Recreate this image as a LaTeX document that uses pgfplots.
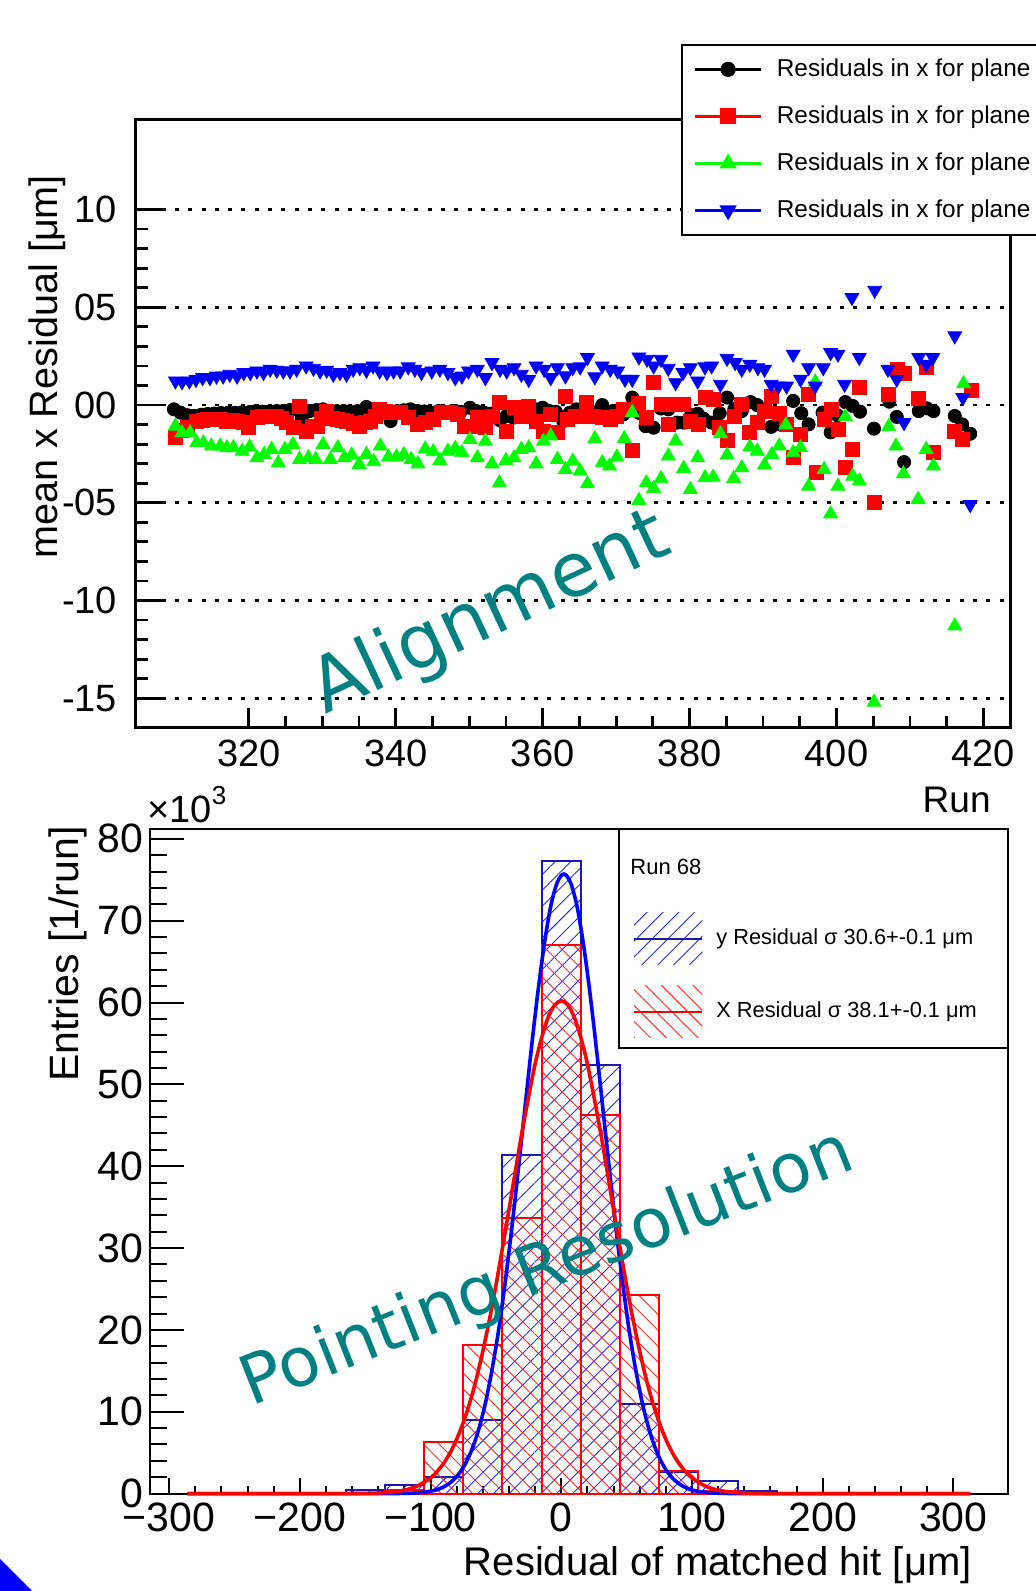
\documentclass[border=0pt]{standalone}
\usepackage{fontspec}
\setmainfont{Liberation Sans}
\newfontfamily\annotfont{DejaVu Sans}
\usepackage{pgfplots}
\usepackage{pgfplotstable}
\pgfplotsset{compat=1.18}
\usetikzlibrary{patterns.meta}

\definecolor{rootblack}{RGB}{0,0,0}
\definecolor{rootred}{RGB}{255,0,0}
\definecolor{rootgreen}{RGB}{0,255,0}
\definecolor{rootblue}{RGB}{0,0,255}
\definecolor{histblue}{RGB}{25,25,170}
\definecolor{rootteal}{RGB}{0,128,128}

% mean x residual per run, one table per plane
\pgfplotstableread{
run res
309.8 -0.22
310.7 -0.39
311.6 -0.52
312.5 -0.56
313.5 -0.50
314.4 -0.46
315.3 -0.44
316.2 -0.41
317.2 -0.39
318.1 -0.40
319.1 -0.37
320.1 -0.36
321.0 -0.31
321.9 -0.34
322.8 -0.33
323.8 -0.31
324.7 -0.31
325.6 -0.26
326.5 -0.22
327.2 -0.68
328.3 -0.31
329.2 -0.26
330.1 -0.22
331.1 -0.39
332.0 -0.33
332.9 -0.31
333.8 -0.35
334.8 -0.31
336.0 -0.10
336.9 -0.39
337.9 -0.36
339.3 -0.82
340.2 -0.31
341.1 -0.27
342.0 -0.22
343.0 -0.31
343.9 -0.33
344.9 -0.39
345.8 -0.31
346.7 -0.39
347.7 -0.31
348.8 -0.35
350.1 -0.14
351.0 -0.31
352.0 -0.39
353.0 -0.44
354.2 -0.79
355.1 -0.56
356.0 -0.65
357.0 -0.48
358.1 -0.31
359.0 -0.22
360.0 -0.14
360.9 -0.31
361.8 -0.35
362.8 -0.82
363.7 -0.39
364.6 -0.22
365.6 -0.30
366.7 -0.36
368.1 0.00
369.5 -0.31
371.0 -0.48
372.2 0.38
373.1 -0.40
374.0 -1.08
375.1 -1.16
376.1 -0.18
377.1 -0.22
378.3 -0.90
379.2 -0.90
380.2 -0.52
381.1 -0.45
381.9 -0.70
383.0 -0.90
384.1 -0.42
385.1 0.38
386.1 -0.20
387.1 -0.31
388.3 0.15
389.2 0.00
390.1 -0.30
391.1 -1.12
392.3 -0.99
394.1 0.21
395.2 -0.42
396.2 -0.99
398.1 -0.39
399.2 -1.40
400.1 -0.52
401.2 0.15
402.2 -0.05
403.2 -0.34
405.1 -1.21
407.2 0.17
408.2 -0.61
409.2 -2.92
411.2 -0.31
412.3 -0.17
413.2 -0.31
416.1 -0.56
417.1 -0.99
418.2 -1.47
}\planeA

\pgfplotstableread{
run res
310.0 -1.64
310.8 -1.30
311.6 -1.16
312.9 -0.82
313.7 -0.80
314.3 -0.74
315.2 -0.76
316.1 -0.74
317.0 -0.82
317.7 -0.78
318.4 -0.82
319.2 -0.90
320.0 -1.16
321.1 -0.65
321.8 -0.60
322.4 -0.56
323.8 -0.56
324.4 -0.70
325.1 -0.91
326.0 -1.16
326.9 -0.05
327.8 -1.33
328.6 -1.10
329.3 -1.08
329.9 -0.70
330.6 -0.31
331.4 -0.70
332.0 -0.74
332.7 -0.80
333.3 -0.82
334.2 -0.95
335.1 -1.08
335.8 -0.90
336.5 -0.82
337.2 -0.60
337.8 -0.22
338.6 -0.35
339.3 -0.39
340.0 -0.40
340.6 -0.39
341.7 -0.65
342.9 -0.99
344.0 -0.91
345.1 -0.74
346.2 -0.39
347.4 -0.39
348.4 -0.48
349.3 -1.08
350.1 -1.08
351.1 -0.65
352.2 -1.16
353.1 -0.56
354.1 0.12
355.1 -1.33
356.1 -0.14
357.1 -0.56
358.1 -0.05
359.1 -0.82
360.1 -1.33
361.1 -0.48
362.0 -1.42
363.1 0.46
363.3 -0.73
364.4 -0.56
365.1 -0.56
366.0 0.12
366.9 -0.56
368.1 -0.65
369.2 -0.73
370.1 -0.56
371.0 -0.22
372.2 -2.30
373.0 0.07
374.1 -0.61
375.1 1.14
376.1 0.03
377.1 -0.99
378.1 0.03
379.2 0.03
380.1 -0.82
381.2 -0.99
382.1 0.38
383.2 0.29
384.1 -1.16
385.1 -1.81
386.1 -0.56
387.1 0.03
388.2 -1.38
389.2 -0.87
390.2 -0.31
391.2 0.46
392.2 -0.44
393.2 -0.99
394.1 -2.70
395.1 -1.50
396.2 0.55
397.3 -3.47
398.3 -0.73
399.3 -0.22
400.2 -1.25
401.2 -3.18
402.2 -2.27
403.1 0.92
405.1 -5.00
407.1 0.55
408.3 1.83
409.3 1.61
411.2 0.34
412.2 1.91
413.2 -2.44
416.1 -1.33
417.2 -1.76
418.3 0.75
}\planeB

\pgfplotstableread{
run res
310.0 -1.08
310.9 -1.42
312.0 -1.42
312.9 -1.93
313.8 -1.93
314.9 -2.10
316.1 -2.10
317.0 -2.19
317.9 -2.19
319.1 -2.36
320.1 -2.15
321.1 -2.70
322.1 -2.53
323.1 -2.27
324.0 -2.96
324.9 -2.27
326.0 -2.02
326.9 -2.78
328.1 -2.70
329.1 -2.78
330.1 -2.02
331.1 -2.78
332.1 -2.19
333.0 -2.70
334.0 -2.56
335.0 -3.04
336.0 -2.53
337.0 -2.90
337.9 -2.10
339.0 -2.66
340.1 -2.66
341.1 -2.53
342.1 -2.78
343.0 -3.01
344.0 -2.25
345.1 -2.39
346.0 -2.84
347.1 -2.36
348.1 -2.22
349.0 -2.44
350.1 -1.76
351.1 -2.70
352.2 -1.85
353.1 -3.01
354.1 -3.98
355.0 -2.84
356.1 -2.70
357.1 -2.27
358.1 -2.19
359.1 -3.01
360.1 -1.85
361.1 -1.59
362.0 -2.78
363.1 -3.30
364.1 -2.87
365.1 -3.38
366.1 -4.03
367.1 -1.72
368.1 -2.95
369.1 -3.12
370.1 -2.66
371.1 -1.72
372.2 -0.39
373.1 -4.88
374.1 -3.98
375.1 -4.27
376.1 -3.77
377.1 -2.61
378.1 -1.84
379.2 -3.24
380.1 -4.32
381.1 -2.70
382.1 -3.72
383.2 -3.69
384.2 -1.47
385.1 -2.56
386.0 -3.76
387.1 -3.21
388.2 -2.15
389.2 -2.36
390.2 -3.07
391.2 -2.53
392.2 -2.10
393.1 -1.02
394.1 -2.44
395.1 -2.19
396.2 -4.15
397.1 1.18
398.3 -3.30
399.2 -5.57
400.2 -4.15
401.2 -0.60
402.2 -3.64
403.1 -3.89
405.1 -15.20
407.1 -1.11
408.1 -2.10
409.1 -3.52
411.1 -4.83
412.2 -2.27
413.2 -3.12
416.1 -11.30
417.3 1.09
}\planeC

\pgfplotstableread{
run res
310.0 1.23
310.9 1.19
311.9 1.23
312.8 1.31
313.7 1.40
314.7 1.40
315.6 1.48
316.5 1.48
317.4 1.57
318.4 1.48
319.3 1.66
320.2 1.66
321.1 1.74
322.0 1.66
322.9 1.83
323.8 1.78
324.7 1.74
325.6 1.74
326.5 1.83
327.8 2.00
328.8 1.88
329.7 1.74
330.6 1.78
331.5 1.57
332.4 1.66
333.3 1.57
334.2 1.83
335.1 1.91
336.0 1.78
336.9 2.00
337.8 1.74
338.8 1.66
339.7 1.74
340.6 1.74
341.7 1.95
342.6 1.83
343.5 1.66
344.9 1.74
346.0 1.83
347.1 1.66
348.1 1.40
349.0 1.48
349.9 1.74
351.1 1.83
352.2 1.40
353.1 2.17
354.2 1.83
355.1 1.74
356.1 1.91
357.1 1.57
358.1 1.31
359.1 2.00
360.2 1.83
361.1 1.40
362.0 1.91
363.1 1.49
364.1 1.91
365.1 1.95
366.1 2.43
367.1 1.44
368.1 2.00
369.2 1.83
370.2 1.74
371.2 1.32
372.2 1.32
373.1 2.46
374.2 2.34
375.1 2.00
376.1 2.34
377.1 1.88
378.1 1.14
379.1 1.66
380.1 1.91
381.1 1.23
382.1 1.95
383.0 2.00
384.2 1.06
385.1 2.39
386.2 2.17
387.1 1.83
388.2 2.08
389.3 1.91
390.2 1.83
391.1 1.06
392.1 0.97
393.2 0.97
394.1 2.60
395.1 1.32
396.2 1.91
397.1 0.97
398.2 1.91
399.2 2.68
400.2 2.60
401.1 1.06
402.1 5.50
403.1 2.43
405.2 5.87
407.0 1.83
408.2 1.32
409.2 -0.90
411.2 2.43
412.2 2.08
413.1 2.43
416.1 3.54
417.2 0.38
418.2 -5.09
}\planeD

\begin{document}
\begin{tikzpicture}[x=1pt,y=1pt]
\useasboundingbox (0,0) rectangle (518,795.5);

% ---------------- top panel: alignment ----------------
\begin{axis}[
  at={(67.5pt,431.7pt)}, anchor=south west,
  scale only axis, width=437.8pt, height=304pt,
  xmin=304.5, xmax=423.7, ymin=-16.5, ymax=14.6,
  xtick={320,340,...,420}, minor x tick num=3,
  ytick={-15,-10,-5,0,5,10}, yticklabels={-15,-10,-05,00,05,10},
  minor y tick num=4,
  tick align=inside, xtick pos=bottom, ytick pos=left,
  xtick style={/pgfplots/major tick length=10pt,/pgfplots/minor tick length=5.8pt},
  ytick style={/pgfplots/major tick length=14pt,/pgfplots/minor tick length=6.7pt},
  every tick/.style={black, line width=1.4pt},
  axis line style={line width=1.5pt},
  ymajorgrids,
  grid style={black, line width=1.3pt, dash pattern=on 2pt off 4.65pt},
  ticklabel style={font=\fontsize{19}{22}\selectfont},
  yticklabel style={xshift=-5.5pt},
  xticklabel style={yshift=-2.5pt},
  /pgf/number format/assume math mode=true,
  scaled ticks=false,
  legend style={at={(0.6236,1.1245)}, anchor=north west, draw=black,
    line width=1pt, fill=white, font=\fontsize{12.2}{15}\selectfont,
    inner xsep=5.8pt, inner ysep=4.25pt, row sep=7.5pt, column sep=5.1pt,
    nodes={inner sep=2pt, text height=9.5pt, text depth=2.5pt},
    cells={anchor=west}},
  legend image code/.code={
    \draw[#1, line width=1.2pt] (0pt,0pt) -- (33.3pt,0pt);
    \draw[#1, only marks] plot coordinates {(16.65pt,0pt)};
  },
]
\addplot[only marks, mark=*, color=rootblack, mark size=3.3pt] table[x=run,y=res] {\planeA};
\addlegendentry{Residuals in x for plane\hspace*{20pt}}
\addplot[only marks, mark=square*, color=rootred, mark size=3.5pt] table[x=run,y=res] {\planeB};
\addlegendentry{Residuals in x for plane\hspace*{20pt}}
\addplot[only marks, mark=triangle*, color=rootgreen, mark size=4pt] table[x=run,y=res] {\planeC};
\addlegendentry{Residuals in x for plane\hspace*{20pt}}
\addplot[only marks, mark=triangle*, color=rootblue, mark size=4pt, mark options={rotate=180}] table[x=run,y=res] {\planeD};
\addlegendentry{Residuals in x for plane\hspace*{20pt}}
\end{axis}

% ---------------- bottom panel: pointing resolution ----------------
\begin{axis}[
  at={(75.1pt,48.7pt)}, anchor=south west,
  scale only axis, width=428.7pt, height=332.3pt,
  xmin=-314.5, xmax=341.5, ymin=0, ymax=81.2,
  xtick={-300,-200,...,300},
  xticklabels={−300,−200,−100,0,100,200,300},
  minor x tick num=4,
  ytick={0,10,...,80}, minor y tick num=4,
  tick align=inside, xtick pos=bottom, ytick pos=left,
  xtick style={/pgfplots/major tick length=7.8pt,/pgfplots/minor tick length=3.7pt},
  ytick style={/pgfplots/major tick length=17pt,/pgfplots/minor tick length=8.3pt},
  every tick/.style={black, line width=1pt},
  axis line style={line width=1pt},
  ticklabel style={font=\fontsize{20.5}{24}\selectfont},
  yticklabel style={xshift=0pt},
  xticklabel style={yshift=-1.2pt},
  /pgf/number format/assume math mode=true,
  scaled ticks=false,
  clip=false,
]
\addplot[ybar interval, draw=histblue, line width=1pt,
  pattern={Lines[angle=45,distance=5.6pt,line width=0.45pt]}, pattern color=rootblue!85]
  coordinates {(-165,0.5) (-135,1.0) (-105,2.0) (-75,9.0) (-45,41.4) (-15,77.3) (15,52.4) (45,10.9) (75,2.6) (105,1.5) (135,0.3) (165,0)};
\addplot[ybar interval, draw=rootred, line width=1pt,
  pattern={Lines[angle=-45,distance=5.6pt,line width=0.45pt]}, pattern color=rootred!85]
  coordinates {(-135,0.4) (-105,6.3) (-75,18.2) (-45,33.7) (-15,67.0) (15,46.2) (45,24.3) (75,2.7) (105,0.3) (135,0)};
% fitted gaussians
\addplot[smooth, rootblue, line width=1.8pt] coordinates {
  (-286,0) (-158,0) (-138,0.002) (-128,0.01) (-118,0.035) (-108,0.12) (-98,0.36)
  (-93,0.6) (-88,1.0) (-83,1.6) (-78,2.48) (-73,3.76) (-68,5.53) (-63,7.94) (-58,11.07)
  (-53,15.1) (-48,19.9) (-43,25.7) (-38,32.2) (-33,39.4) (-28,46.8) (-23,54.2)
  (-18,61.1) (-13,67.1) (-8,71.8) (-3,74.7) (2,75.7) (7,74.7) (12,71.8) (17,67.1)
  (22,61.1) (27,54.2) (32,46.8) (37,39.4) (42,32.2) (47,25.7) (52,19.9) (57,15.1)
  (62,11.07) (67,7.94) (72,5.53) (77,3.76) (82,2.48) (87,1.6) (92,1.0) (97,0.6)
  (102,0.36) (112,0.12) (122,0.035) (132,0.01) (142,0.002) (162,0) (313,0)};
\addplot[smooth, rootred, line width=1.8pt] coordinates {
  (-286,0) (-170,0) (-160,0.01) (-150,0.03) (-140,0.07) (-130,0.18) (-120,0.42)
  (-110,0.93) (-100,1.92) (-95,2.69) (-90,3.70) (-85,5.00) (-80,6.64) (-75,8.67)
  (-70,11.1) (-65,14.0) (-60,17.4) (-55,21.2) (-50,25.4) (-45,30.0) (-40,34.7)
  (-35,39.5) (-30,44.2) (-25,48.5) (-20,52.5) (-15,55.7) (-10,58.2) (-5,59.7) (0,60.2)
  (5,59.7) (10,58.2) (15,55.7) (20,52.5) (25,48.5) (30,44.2) (35,39.5) (40,34.7)
  (45,30.0) (50,25.4) (55,21.2) (60,17.4) (65,14.0) (70,11.1) (75,8.67) (80,6.64)
  (85,5.00) (90,3.70) (95,2.69) (100,1.92) (110,0.93) (120,0.42) (130,0.18) (140,0.07)
  (150,0.03) (160,0.01) (170,0) (313,0)};
\end{axis}

% legend of the bottom panel
\draw[line width=0.9pt, fill=white] (309.5,271.5) rectangle (503.8,381);
\node[anchor=base west, inner sep=0pt, font=\fontsize{11}{12}\selectfont] at (315,358) {Run 68};
\fill[pattern={Lines[angle=45,distance=5.6pt,line width=0.45pt]}, pattern color=rootblue!85] (317,313) rectangle (351.2,339);
\draw[histblue, line width=1pt] (317,326) -- (351.2,326);
\node[anchor=base west, inner sep=0pt, font=\fontsize{10.9}{12}\selectfont] at (358,323) {y Residual σ 30.6+-0.1 μm};
\fill[pattern={Lines[angle=-45,distance=5.6pt,line width=0.45pt]}, pattern color=rootred!85] (317,276.5) rectangle (351.2,302.5);
\draw[rootred, line width=1pt] (317,289.5) -- (351.2,289.5);
\node[anchor=base west, inner sep=0pt, font=\fontsize{10.9}{12}\selectfont] at (358,286.5) {X Residual σ 38.1+-0.1 μm};

% axis titles
\node[rotate=90, anchor=base, inner sep=0pt, font=\fontsize{19.8}{22}\selectfont] at (28.5,612) {mean x Residual [μm]};
\node[anchor=base east, inner sep=0pt, font=\fontsize{18.5}{22}\selectfont] at (495.5,389) {Run};
\node[anchor=base west, inner sep=0pt, font=\fontsize{19}{22}\selectfont] at (73.5,384) {×10\raisebox{0.48em}{\fontsize{13}{13}\selectfont 3}};
\node[rotate=90, anchor=base, inner sep=0pt, font=\fontsize{20.5}{24}\selectfont] at (39,318.5) {Entries [1/run]};
\node[anchor=base east, inner sep=0pt, font=\fontsize{20}{24}\selectfont] at (486,8) {Residual of matched hit [μm]};

% slide annotations
\node[rotate=25, anchor=base west, inner sep=0pt, text=rootteal, font=\annotfont\fontsize{37.5}{40}\selectfont] at (162.5,438) {Alignment};
\node[rotate=21.5, anchor=base west, inner sep=0pt, text=rootteal, font=\annotfont\fontsize{34}{40}\selectfont] at (125.5,92.2) {Pointing Resolution};
\fill[rootblue] (0,0) -- (16,0) -- (0,16) -- cycle;
\end{tikzpicture}
\end{document}
